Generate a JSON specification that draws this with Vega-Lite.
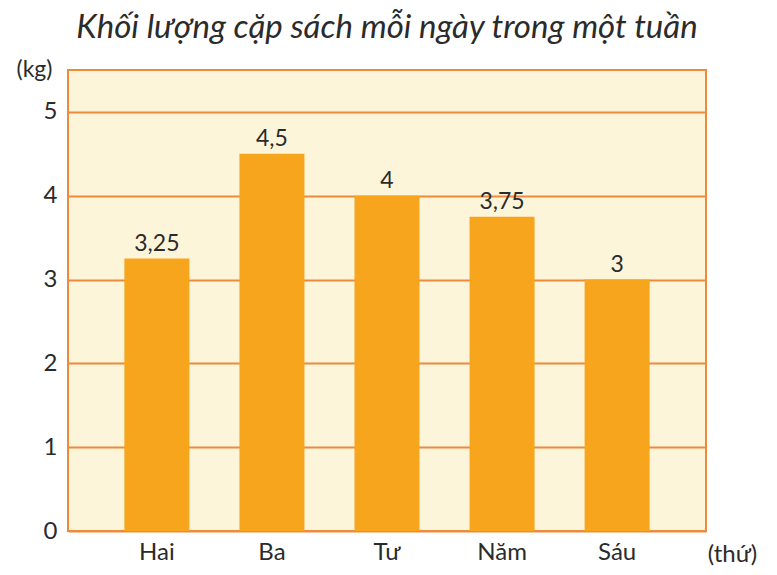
{
  "$schema": "https://vega.github.io/schema/vega-lite/v6.json",
  "width": 638,
  "height": 461,
  "autosize": {"type": "none"},
  "padding": {"left": 68, "top": 70, "right": 71, "bottom": 44},
  "background": "white",
  "config": {
    "locale": {"number": {"decimal": ",", "thousands": ".", "grouping": [3], "currency": ["", ""]}},
    "font": "Lato",
    "view": {"fill": "#FDF5DA", "stroke": "#EE8A3C", "strokeWidth": 2}
  },
  "title": {
    "text": "Khối lượng cặp sách mỗi ngày trong một tuần",
    "fontSize": 33,
    "fontStyle": "italic",
    "fontWeight": "normal",
    "color": "#2b2b2b",
    "anchor": "middle",
    "baseline": "alphabetic",
    "offset": 32,
    "dy": 45
  },
  "data": {
    "values": [
      {"thu": "Hai", "kg": 3.25},
      {"thu": "Ba", "kg": 4.5},
      {"thu": "Tư", "kg": 4},
      {"thu": "Năm", "kg": 3.75},
      {"thu": "Sáu", "kg": 3}
    ]
  },
  "encoding": {
    "x": {
      "field": "thu",
      "type": "nominal",
      "sort": null,
      "scale": {"paddingInner": 0.435, "paddingOuter": 0.49},
      "axis": {
        "title": "(thứ)",
        "titleX": 664,
        "titleY": 23,
        "titleAlign": "center",
        "titleBaseline": "middle",
        "titleFontSize": 24,
        "titleFontWeight": "normal",
        "titleColor": "#2b2b2b",
        "labelAngle": 0,
        "labelFontSize": 24,
        "labelColor": "#2b2b2b",
        "labelPadding": 9,
        "ticks": false,
        "domain": false
      }
    },
    "y": {
      "field": "kg",
      "type": "quantitative",
      "scale": {"domain": [0, 5.5], "nice": false},
      "axis": {
        "values": [0, 1, 2, 3, 4, 5],
        "title": "(kg)",
        "titleAngle": 0,
        "titleX": -34,
        "titleY": -1,
        "titleAlign": "center",
        "titleBaseline": "middle",
        "titleFontSize": 23,
        "titleFontWeight": "normal",
        "titleColor": "#2b2b2b",
        "labelFontSize": 24,
        "labelColor": "#2b2b2b",
        "labelPadding": 11,
        "ticks": false,
        "domain": false,
        "grid": true,
        "gridColor": "#EE8A3C",
        "gridWidth": 2,
        "gridOpacity": 1
      }
    }
  },
  "layer": [
    {"mark": {"type": "bar", "color": "#F6A51C"}},
    {
      "mark": {"type": "text", "baseline": "bottom", "dy": -3, "fontSize": 23, "color": "#2b2b2b"},
      "encoding": {"text": {"field": "kg", "type": "quantitative", "format": ".2~f"}}
    }
  ]
}
